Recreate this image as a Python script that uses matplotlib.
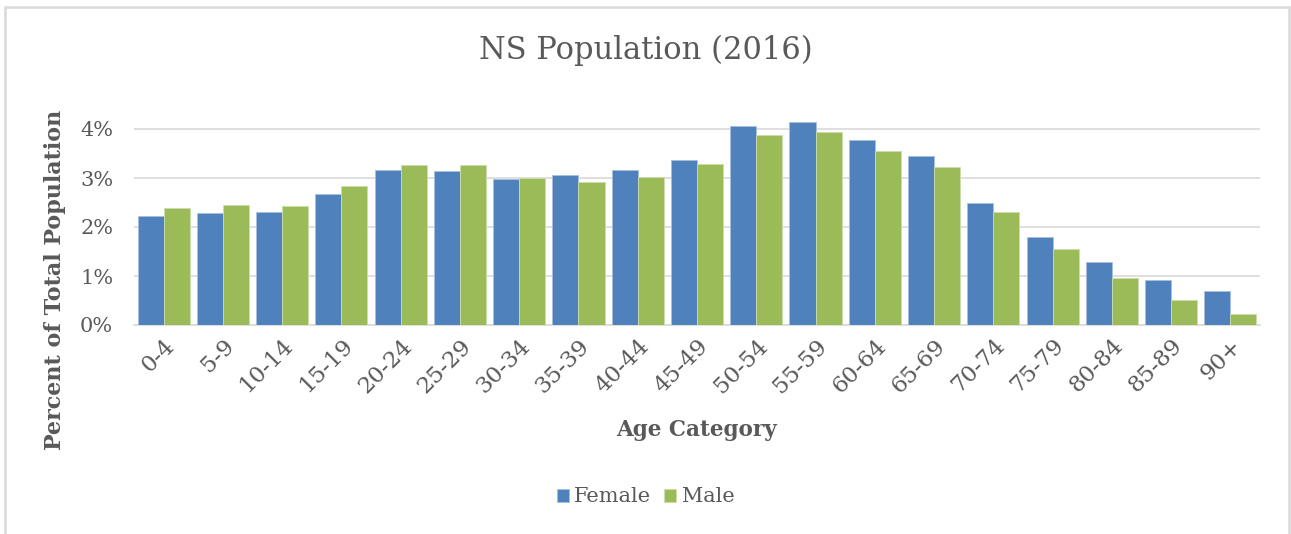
import matplotlib
matplotlib.use("Agg")
import matplotlib.pyplot as plt
import numpy as np
from matplotlib.patches import Rectangle
from matplotlib.ticker import PercentFormatter

ages = ["0-4", "5-9", "10-14", "15-19", "20-24", "25-29", "30-34", "35-39",
        "40-44", "45-49", "50-54", "55-59", "60-64", "65-69", "70-74",
        "75-79", "80-84", "85-89", "90+"]
female = [2.23, 2.28, 2.31, 2.68, 3.16, 3.14, 2.97, 3.06, 3.17, 3.36,
          4.07, 4.14, 3.77, 3.44, 2.50, 1.79, 1.29, 0.91, 0.69]
male = [2.38, 2.44, 2.42, 2.84, 3.26, 3.27, 3.00, 2.91, 3.02, 3.29,
        3.88, 3.94, 3.56, 3.22, 2.30, 1.55, 0.96, 0.51, 0.23]

plt.rcParams["font.family"] = ["DejaVu Serif"]
txt = "#595959"
W, H = 1291, 534

fig = plt.figure(figsize=(W / 100, H / 100), dpi=100)
ax = fig.add_axes([134 / W, 1 - 325 / H, (1260 - 134) / W, 220.5 / H])

x = np.arange(len(ages))
w = 0.44
ax.bar(x - w / 2, female, w, color="#4F81BD", edgecolor="#A7C0E0", linewidth=0.6, label="Female", zorder=3)
ax.bar(x + w / 2, male, w, color="#9BBB59", edgecolor="#CDDDAC", linewidth=0.6, label="Male", zorder=3)

ax.set_xlim(-0.5, len(ages) - 0.5)
ax.set_ylim(0, 4.5)
ax.set_yticks([0, 1, 2, 3, 4])
ax.yaxis.set_major_formatter(PercentFormatter(decimals=0))
ax.yaxis.grid(True, color="#D9D9D9", linewidth=1.2, zorder=0)
for s in ["top", "right", "left"]:
    ax.spines[s].set_visible(False)
ax.spines["bottom"].set_color("#D9D9D9")
ax.spines["bottom"].set_linewidth(1.2)
ax.tick_params(axis="y", length=0, colors=txt, labelsize=15, pad=15)
ax.tick_params(axis="x", length=0, colors=txt, labelsize=16.5, pad=7)
ax.set_xticks(x)
ax.set_xticklabels(ages, rotation=45, ha="right", va="top", rotation_mode="anchor")

fig.text(0.5, 1 - 50 / H, "NS Population (2016)", fontsize=22, color=txt, ha="center", va="center")
fig.text(697 / W, 1 - 430 / H, "Age Category", fontsize=15.5, fontweight="bold", color=txt,
         ha="center", va="center")
fig.text(55 / W, 1 - 280 / H, "Percent of Total Population", fontsize=16, fontweight="bold",
         color=txt, ha="center", va="center", rotation=90)

ax.legend(loc="center", bbox_to_anchor=(0.5, 1 - 497 / H), bbox_transform=fig.transFigure,
          ncol=2, frameon=False, fontsize=15, labelcolor=txt,
          handlelength=0.6, handleheight=0.6, handletextpad=0.25, columnspacing=0.6)

fig.patches.append(Rectangle((5 / W, -0.02), (1289 - 5) / W, 1.02 - 7 / H, transform=fig.transFigure,
                             fill=False, edgecolor="#D9D9D9", linewidth=1.8))

fig.savefig("out.png", dpi=100)
